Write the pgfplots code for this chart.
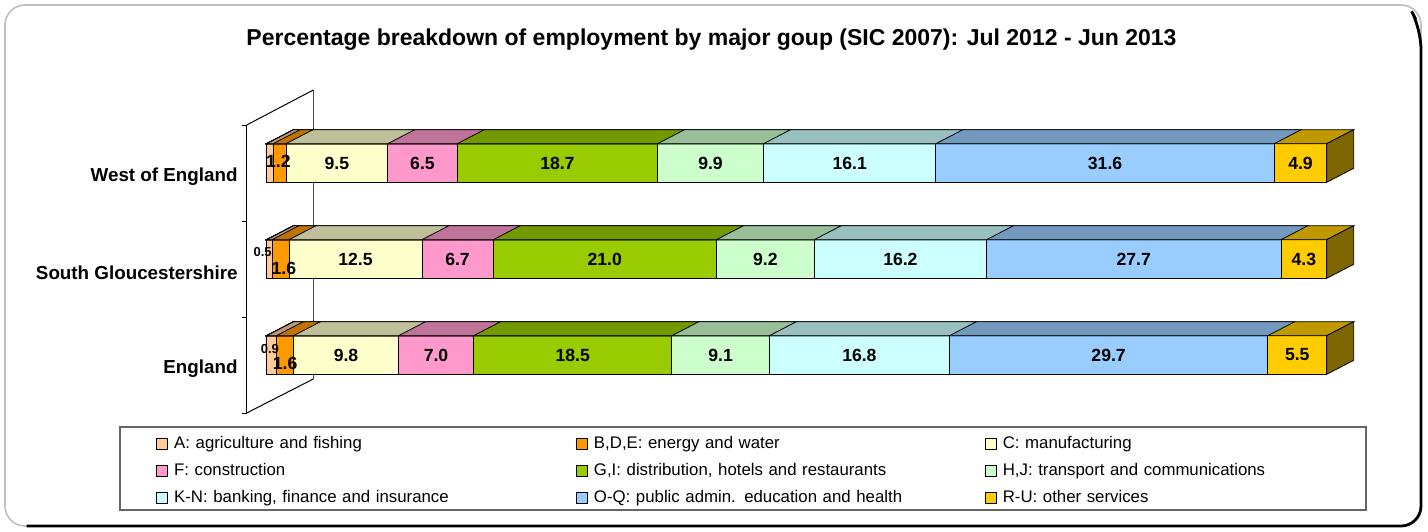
\documentclass[border=0pt]{standalone}
\usepackage{pgfplots}
\pgfplotsset{compat=1.18}
\usepackage{pgfplotstable}
\usepackage{fontspec}
\setmainfont{Liberation Sans}
\pgfdeclareplotmark{nothing}{}

\definecolor{cA}{HTML}{FFCC99}
\definecolor{cB}{HTML}{FF9900}
\definecolor{cC}{HTML}{FFFFCC}
\definecolor{cF}{HTML}{FF99CC}
\definecolor{cG}{HTML}{99CC00}
\definecolor{cH}{HTML}{CCFFCC}
\definecolor{cK}{HTML}{CCFFFF}
\definecolor{cO}{HTML}{99CCFF}
\definecolor{cR}{HTML}{FFCC00}

% y: 0 = England, 1 = South Gloucestershire, 2 = West of England
% lx, ly, bx, by: label offsets (pt) for the two narrow segments
\pgfplotstableread{
y A   B   C    F   G    H   K    O    R   lx   ly  bx   by
0 0.9 1.6 9.8  7.0 18.5 9.1 16.8 29.7 5.5 -0.8 2.9 0.1  -4.2
1 0.5 1.6 12.5 6.7 21.0 9.2 16.2 27.7 4.3 -3.4 3.5 1.7  -4.5
2 0.6 1.2 9.5  6.5 18.7 9.9 16.1 31.6 4.9 0    0   -0.6 0.9
}\datatable

\def\tot{(\thisrow{A}+\thisrow{B}+\thisrow{C}+\thisrow{F}+\thisrow{G}+\thisrow{H}+\thisrow{K}+\thisrow{O}+\thisrow{R})}

\tikzset{
  lbl/.style={font=\fontsize{8.8}{10}\bfseries\selectfont, inner sep=0pt},
  lbls/.style={font=\fontsize{6.5}{7}\bfseries\selectfont, inner sep=0pt},
}

% top face of a segment: drawn from x=0 to the end of the segment
% (stacked plots are drawn last-to-first, so shorter faces cover longer ones)
\newcommand\segtop[1]{%
  \pgfgettransformentries\tmA\tmB\tmC\tmD\tmX\tmY
  \pgfmathsetmacro\segE{-\tmX}%
  \pgfmathsetmacro\segF{\segE+13.5}%
  \filldraw[fill=#1!75!black, draw=black, line width=0.4pt]
    (\segE pt,9.65pt) -- (0pt,9.65pt) -- (13.5pt,16.65pt) -- (\segF pt,16.65pt) -- cycle;
}

\pgfplotsset{
  seg/.style n args={3}{%
    forget plot,
    fill=#2, draw=black, line width=0.4pt,
    mark=nothing, scatter, point meta=x,
    scatter/@pre marker code/.code={\segtop{#2}#3},
    scatter/@post marker code/.code={},
  },
  lab/.style={only marks, mark=nothing, point meta=explicit symbolic,
    nodes near coords, every node near coord/.style={lbl, anchor=center}},
  common/.style={
    scale only axis, x=5.3pt, y=48pt,
    anchor=south west, at={(0pt,-24pt)},
    xmin=0, xmax=100, ymin=-0.5, ymax=2.5, clip=false,
  },
}

\begin{document}
\begin{tikzpicture}
\useasboundingbox (-133.35pt,-88pt) rectangle (580.65pt,177.5pt);
% frame
\draw[black!25, line width=0.8pt, rounded corners=10pt] (-130.85pt,-85.5pt) rectangle (577.15pt,175pt);
\draw[black, line width=1.4pt, rounded corners=10pt] (574.5pt,168pt) -- (577.15pt,163pt) -- (577.15pt,-85.5pt) -- (-120pt,-85.5pt);
% title
\node[font=\fontsize{11.5}{13}\bfseries\selectfont] at (222.4pt,157.5pt)
  {Percentage breakdown of employment by major goup (SIC 2007): Jul 2012 - Jun 2013};
% 3D wall
\draw[black, line width=0.5pt] (-10pt,115pt) -- (-10pt,-29pt);
\draw[black!70, line width=0.5pt] (23.3pt,132.5pt) -- (23.3pt,-12pt);
\draw[black, line width=0.5pt] (-10pt,115pt) -- (23.3pt,132.5pt);
\draw[black, line width=0.5pt] (-10pt,-29pt) -- (23.3pt,-12pt);
\foreach \yy in {115,67,19,-29} \draw[black, line width=0.5pt] (-12.5pt,\yy pt) -- (-10pt,\yy pt);
% legend box
\draw[black!60, line width=0.6pt] (-73.35pt,-77.5pt) rectangle (549.65pt,-36pt);

\begin{axis}[
  common,
  xbar stacked, bar width=19.3pt,
  axis line style={draw=none},
  xtick=\empty,
  ytick={0,1,2},
  yticklabels={England,South Gloucestershire,West of England},
  major tick length=0pt,
  tick style={draw=none},
  yticklabel style={font=\fontsize{9.4}{11}\bfseries\selectfont, anchor=east, inner sep=0pt, xshift=-14.35pt, yshift=-7pt},
  legend columns=3,
  legend image code/.code={\draw[#1, draw=black, line width=0.4pt] (0pt,-2.65pt) rectangle (5.3pt,2.65pt);},
  legend style={
    at={(-0.10443,-0.11319)}, anchor=north west,
    draw=none, fill=none, inner sep=0pt, row sep=5.5pt,
    nodes={inner sep=0pt, text height=6pt, text depth=2pt, text width=180pt, align=left,
           font=\fontsize{8.4}{9}\selectfont},
    /tikz/every odd column/.style={column sep=3.2pt},
    /tikz/column 2/.style={column sep=21pt},
    /tikz/column 4/.style={column sep=15.5pt},
  },
]
\addplot+[seg={A}{cA}{}] table[x expr=\thisrow{A}/\tot*100, y=y] {\datatable};
\addplot+[seg={B}{cB}{}] table[x expr=\thisrow{B}/\tot*100, y=y] {\datatable};
\addplot+[seg={C}{cC}{}] table[x expr=\thisrow{C}/\tot*100, y=y] {\datatable};
\addplot+[seg={F}{cF}{}] table[x expr=\thisrow{F}/\tot*100, y=y] {\datatable};
\addplot+[seg={G}{cG}{}] table[x expr=\thisrow{G}/\tot*100, y=y] {\datatable};
\addplot+[seg={H}{cH}{}] table[x expr=\thisrow{H}/\tot*100, y=y] {\datatable};
\addplot+[seg={K}{cK}{}] table[x expr=\thisrow{K}/\tot*100, y=y] {\datatable};
\addplot+[seg={O}{cO}{}] table[x expr=\thisrow{O}/\tot*100, y=y] {\datatable};
\addplot+[seg={R}{cR}{\filldraw[fill=cR!50!black, draw=black, line width=0.4pt] (0pt,-9.65pt) -- (0pt,9.65pt) -- (13.5pt,16.65pt) -- (13.5pt,-2.65pt) -- cycle;}]
  table[x expr=\thisrow{R}/\tot*100, y=y] {\datatable};

\addlegendimage{fill=cA}\addlegendentry{A: agriculture and fishing}
\addlegendimage{fill=cB}\addlegendentry{B,D,E: energy and water}
\addlegendimage{fill=cC}\addlegendentry{C: manufacturing}
\addlegendimage{fill=cF}\addlegendentry{F: construction}
\addlegendimage{fill=cG}\addlegendentry{G,I: distribution, hotels and restaurants}
\addlegendimage{fill=cH}\addlegendentry{H,J: transport and communications}
\addlegendimage{fill=cK}\addlegendentry{K-N: banking, finance and insurance}
\addlegendimage{fill=cO}\addlegendentry{O-Q: public admin. education and health}
\addlegendimage{fill=cR}\addlegendentry{R-U: other services}
\end{axis}

% value labels, centred in each segment
\begin{axis}[common, hide axis]
\addplot[lab, every node near coord/.style={lbls, anchor=center}, skip coords between index={2}{3}]
  table[x expr=(\thisrow{A}/2)/\tot*100+\thisrow{lx}/5.3, y expr=\thisrow{y}+\thisrow{ly}/48, meta=A] {\datatable};
\addplot[lab] table[x expr=(\thisrow{A}+\thisrow{B}/2)/\tot*100+\thisrow{bx}/5.3, y expr=\thisrow{y}+\thisrow{by}/48, meta=B] {\datatable};
\addplot[lab] table[x expr=(\thisrow{A}+\thisrow{B}+\thisrow{C}/2)/\tot*100, y=y, meta=C] {\datatable};
\addplot[lab] table[x expr=(\thisrow{A}+\thisrow{B}+\thisrow{C}+\thisrow{F}/2)/\tot*100, y=y, meta=F] {\datatable};
\addplot[lab] table[x expr=(\thisrow{A}+\thisrow{B}+\thisrow{C}+\thisrow{F}+\thisrow{G}/2)/\tot*100, y=y, meta=G] {\datatable};
\addplot[lab] table[x expr=(\thisrow{A}+\thisrow{B}+\thisrow{C}+\thisrow{F}+\thisrow{G}+\thisrow{H}/2)/\tot*100, y=y, meta=H] {\datatable};
\addplot[lab] table[x expr=(\thisrow{A}+\thisrow{B}+\thisrow{C}+\thisrow{F}+\thisrow{G}+\thisrow{H}+\thisrow{K}/2)/\tot*100, y=y, meta=K] {\datatable};
\addplot[lab] table[x expr=(\thisrow{A}+\thisrow{B}+\thisrow{C}+\thisrow{F}+\thisrow{G}+\thisrow{H}+\thisrow{K}+\thisrow{O}/2)/\tot*100, y=y, meta=O] {\datatable};
\addplot[lab] table[x expr=(\thisrow{A}+\thisrow{B}+\thisrow{C}+\thisrow{F}+\thisrow{G}+\thisrow{H}+\thisrow{K}+\thisrow{O}+\thisrow{R}/2)/\tot*100, y=y, meta=R] {\datatable};
\end{axis}
\end{tikzpicture}
\end{document}
